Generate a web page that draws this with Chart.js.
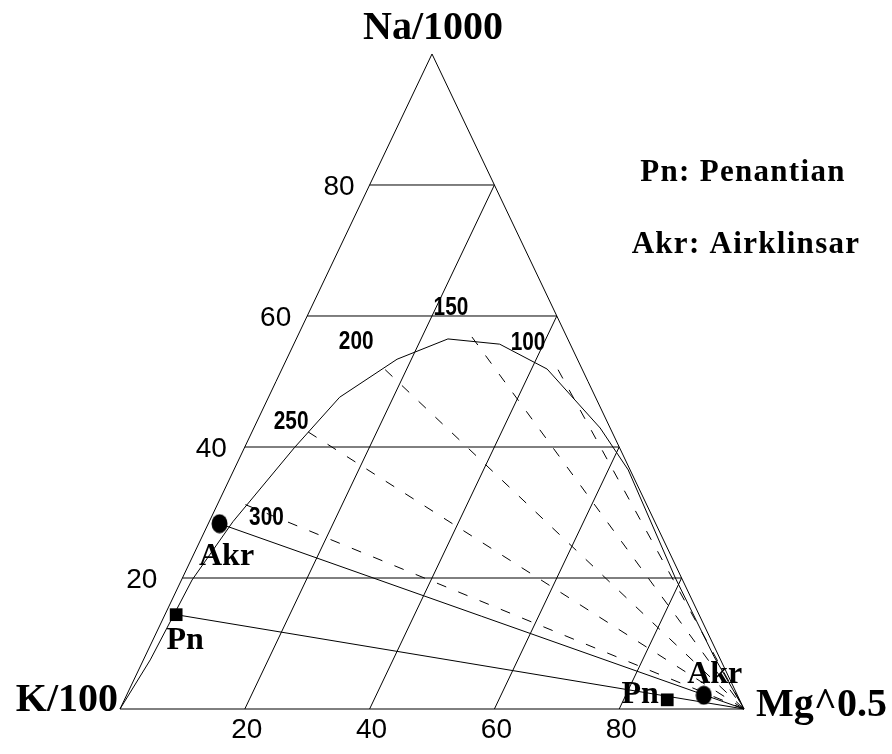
<!DOCTYPE html>
<html><head><meta charset="utf-8">
<script src="https://cdn.jsdelivr.net/npm/chart.js@4"></script>
<style>html,body{margin:0;padding:0;background:#fff}#wrap{width:892px;height:754px;position:relative}</style>
</head><body><div id="wrap"><canvas id="c"></canvas></div>
<script>
// Ternary values in percent: Na/1000 and Mg^0.5 ; K/100 = 100 - Na - Mg
const gridTicks = [20, 40, 60, 80];
const tickLabels = ['20', '40', '60', '80'];
const curveNa = [0, 7.5, 19.7, 28.6, 39.9, 47.6, 53.4, 56.5, 55.7, 51.9, 42.9, 36.5, 20, 8, 0];
const curveMg = [0, 1.1, 1.7, 3.8, 8.0, 11.4, 17.7, 24.3, 33.0, 42.5, 55.5, 63.2, 79.0, 91.2, 100];
const isoTemps = ['300', '250', '200', '150', '100'];
const isoNa = [31.2, 42.3, 51.8, 56.8, 51.8];
const isoMg = [4.5, 9.0, 16.6, 28.0, 44.3];
const pnNa = [14.4, 1.4];
const pnMg = [1.8, 87.0];
const akrNa = [28.3, 2.1];
const akrMg = [1.8, 92.5];
const vertexNames = ['Na/1000', 'K/100', 'Mg^0.5'];
const legendLines = ['Pn: Penantian', 'Akr: Airklinsar'];

// ternary -> cartesian (x = Mg + Na/2, y = Na)
const P = (na, mg) => ({ x: mg + na / 2, y: na });
const MGV = P(0, 100), KV = P(0, 0), NAV = P(100, 0);

function line(pts, extra) {
  return Object.assign({ data: pts, showLine: true, borderColor: '#000', backgroundColor: '#000',
    borderWidth: 1, pointRadius: 0, tension: 0, fill: false }, extra || {});
}
const datasets = [];
datasets.push(line([KV, MGV, NAV, KV]));
gridTicks.forEach(v => {
  datasets.push(line([P(v, 0), P(v, 100 - v)]));
  datasets.push(line([P(0, v), P(100 - v, v)]));
});
datasets.push(line(curveNa.map((na, i) => P(na, curveMg[i]))));
isoNa.forEach((na, i) => datasets.push(line([P(na, isoMg[i]), MGV], { borderDash: [10, 13] })));
datasets.push(line([P(pnNa[0], pnMg[0]), MGV]));
datasets.push(line([P(akrNa[0], akrMg[0]), MGV]));

// ellipse marker
const ell = document.createElement('canvas');
ell.width = 17; ell.height = 20;
{ const g = ell.getContext('2d'); g.fillStyle = '#000'; g.beginPath(); g.ellipse(8.5, 10, 8, 9.5, 0, 0, Math.PI * 2); g.fill(); }

datasets.push({ data: pnNa.map((na, i) => P(na, pnMg[i])), showLine: false, pointStyle: 'rect',
  pointRadius: 9, backgroundColor: '#000', borderColor: '#000', borderWidth: 0 });
datasets.push({ data: akrNa.map((na, i) => P(na, akrMg[i])), showLine: false, pointStyle: ell,
  pointRadius: 9, backgroundColor: '#000', borderColor: '#000' });

function txt(ctx, s, x, y, font, align, sx, spacing) {
  ctx.save();
  ctx.font = font; ctx.fillStyle = '#000'; ctx.textAlign = align || 'center'; ctx.textBaseline = 'middle';
  if (spacing) ctx.letterSpacing = spacing + 'px';
  ctx.translate(x, y); ctx.scale(sx || 1, 1); ctx.fillText(s, 0, 0);
  ctx.restore();
}

const labels = {
  id: 'labels',
  afterDatasetsDraw(chart) {
    const ctx = chart.ctx, xs = chart.scales.x, ys = chart.scales.y;
    const px = (na, mg) => { const p = P(na, mg); return [xs.getPixelForValue(p.x), ys.getPixelForValue(p.y)]; };
    const serif = 'bold 40px "Liberation Serif", "Times New Roman", serif';
    let [x, y] = px(100, 0); txt(ctx, vertexNames[0], x + 1, y - 25, serif);
    [x, y] = px(0, 0); txt(ctx, vertexNames[1], x - 2, y - 8, serif, 'right');
    [x, y] = px(0, 100); txt(ctx, vertexNames[2], x + 12, y - 3, serif, 'left');
    const tf = '28px "Liberation Sans", Arial, sans-serif';
    const leftOff = [-25, -18, -16, -15];
    gridTicks.forEach((v, i) => {
      [x, y] = px(v, 0); txt(ctx, tickLabels[i], x + leftOff[i], y + 2, tf, 'right');
      [x, y] = px(0, v); txt(ctx, tickLabels[i], x + 2, y + 21, tf, 'center');
    });
    const nf = 'bold 26px "Liberation Sans", Arial, sans-serif';
    const off = [[21, 13], [-17, -10], [-29, -28], [-21, -29], [-30, -27]];
    isoTemps.forEach((t, i) => {
      [x, y] = px(isoNa[i], isoMg[i]); txt(ctx, t, x + off[i][0], y + off[i][1], nf, 'center', 0.8);
    });
    const sf = 'bold 32px "Liberation Serif", "Times New Roman", serif';
    [x, y] = px(pnNa[0], pnMg[0]); txt(ctx, 'Pn', x + 9, y + 26, sf);
    [x, y] = px(pnNa[1], pnMg[1]); txt(ctx, 'Pn', x - 27, y - 5, sf);
    [x, y] = px(akrNa[0], akrMg[0]); txt(ctx, 'Akr', x + 7, y + 33, sf);
    [x, y] = px(akrNa[1], akrMg[1]); txt(ctx, 'Akr', x + 11, y - 21, sf);
    const lf = 'bold 31px "Liberation Serif", "Times New Roman", serif';
    txt(ctx, legendLines[0], 743, 173, lf, 'center', 1, 1.3);
    txt(ctx, legendLines[1], 746, 245, lf, 'center', 1, 1.3);
  }
};

new Chart(document.getElementById('c'), {
  type: 'scatter',
  data: { datasets },
  options: {
    responsive: true, maintainAspectRatio: false, animation: false, events: [],
    layout: { padding: 0, autoPadding: false },
    plugins: { legend: { display: false }, tooltip: { enabled: false } },
    scales: {
      x: { type: 'linear', min: -19.231, max: 123.718, display: false },
      y: { type: 'linear', min: -6.870, max: 108.244, display: false }
    }
  },
  plugins: [labels]
});
</script>
</body></html>
